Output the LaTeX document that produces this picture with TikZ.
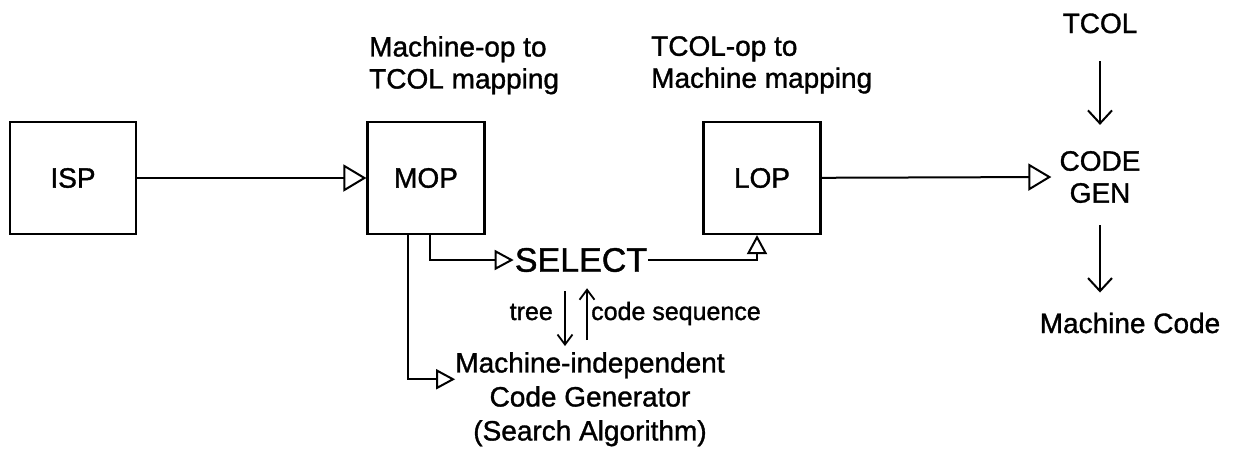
\documentclass[tikz,border=0pt]{standalone}
\usepackage{fontspec}
\setmainfont{Liberation Sans}[FakeBold=1.2]
\usetikzlibrary{arrows.meta,positioning}

\tikzset{
  box/.style={draw, line width=2.2pt, minimum width=117pt, minimum height=112pt,
    font=\fontsize{28}{32}\selectfont},
  lbl/.style={inner sep=0pt, font=\fontsize{28}{32}\selectfont},
  tri/.style={line width=2pt, -{Triangle[open, length=23pt, width=27pt]}},
  trism/.style={line width=2pt, -{Triangle[open, length=19pt, width=20pt]}},
  stick/.style={line width=2pt, -{Straight Barb[length=13pt, width=24pt]}},
  sticksm/.style={line width=1.8pt, -{Straight Barb[length=10pt, width=15pt]}}
}

\begin{document}
\begin{tikzpicture}[x=1pt, y=-1pt]
\useasboundingbox (0,0) rectangle (1243,448);

% boxes
\node[box, minimum width=126pt] (isp) at (73,178) {ISP};
\node[box] (mop) at (426,178) {MOP};
\node[box] (lop) at (762,178) {LOP};

% labels over the boxes
\node[lbl, anchor=north west, align=left] (moplbl) at (369,36) {Machine-op to\\TCOL mapping};
\node[lbl, anchor=north west, align=left] (loplbl) at (651,36) {TCOL-op to\\Machine mapping};

% code generator column
\node[lbl, anchor=base] (tcol) at (1100,33) {TCOL};
\node[lbl, align=center, inner sep=8pt] (gen) at (1100,177) {CODE\\GEN};
\node[lbl, anchor=base] (mc) at (1130,333) {Machine Code};

% selector and search
\node[lbl, inner sep=1pt, font=\fontsize{34}{36}\selectfont] (sel) at (581,260) {SELECT};
\node[lbl, anchor=north, align=center, font=\fontsize{28}{34}\selectfont] (mig) at (590,352)
  {Machine-independent\\Code Generator\\(Search Algorithm)};
\node[lbl, anchor=base east, font=\fontsize{25}{28}\selectfont] (tree) at (553,320) {tree};
\node[lbl, anchor=base west, font=\fontsize{25}{28}\selectfont] (cseq) at (591,320) {code sequence};

% connectors
\draw[tri] (isp) -- (mop);
\draw[tri] (lop) -- (gen.west);
\draw[trism] ([xshift=4pt]mop.south) |- (sel.west);
\draw[trism] ([xshift=-18pt]mop.south) |- ([yshift=20pt]mig.west);
\draw[trism] (sel.east) -| ([xshift=-5pt]lop.south);
\draw[stick, shorten <=28pt, shorten >=18pt] (tcol.base) -- (gen.north);
\draw[stick, shorten <=14pt, shorten >=20pt] (gen.south) -- (gen.south |- mc.north);
\draw[sticksm, shorten <=18pt, shorten >=6pt] ([xshift=-16pt]sel.south) -- ([xshift=-16pt]sel.south |- mig.north);
\draw[sticksm, shorten <=12pt, shorten >=15pt] ([xshift=6pt]sel.south |- mig.north) -- ([xshift=6pt]sel.south);
\end{tikzpicture}
\end{document}
